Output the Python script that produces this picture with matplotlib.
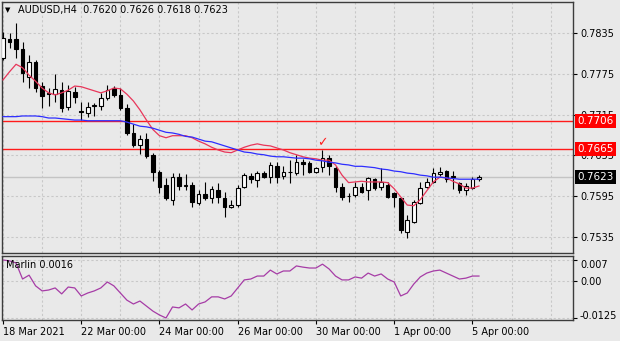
import numpy as np
import matplotlib
matplotlib.use('Agg')
import matplotlib.pyplot as plt
import matplotlib.transforms as mtransforms

# AUDUSD H4 bars, 18 Mar 2021 00:00 .. 5 Apr 2021 04:00
opens = [0.7798, 0.7826, 0.7826, 0.7811, 0.7770, 0.7792, 0.7757, 0.7747, 0.7745, 0.7751,
         0.7726, 0.7748, 0.7720, 0.7717, 0.7728, 0.7728, 0.7739, 0.7754, 0.7744, 0.7725,
         0.7688, 0.7670, 0.7679, 0.7656, 0.7631, 0.7612, 0.7589, 0.7623, 0.7610, 0.7612,
         0.7585, 0.7598, 0.7592, 0.7604, 0.7592, 0.7579, 0.7582, 0.7609, 0.7625, 0.7619,
         0.7629, 0.7623, 0.7639, 0.7625, 0.7631, 0.7629, 0.7645, 0.7644, 0.7631, 0.7638,
         0.7651, 0.7637, 0.7609, 0.7595, 0.7597, 0.7609, 0.7604, 0.7620, 0.7609, 0.7612,
         0.7600, 0.7592, 0.7542, 0.7557, 0.7585, 0.7609, 0.7616, 0.7628, 0.7632, 0.7625,
         0.7615, 0.7604, 0.7607, 0.7620]
highs = [0.7836, 0.7835, 0.7850, 0.7822, 0.7803, 0.7795, 0.7763, 0.7754, 0.7775, 0.7763,
         0.7759, 0.7756, 0.7734, 0.7734, 0.7732, 0.7747, 0.7759, 0.7757, 0.7754, 0.7731,
         0.7701, 0.7685, 0.7688, 0.7659, 0.7634, 0.7622, 0.7629, 0.7629, 0.7628, 0.7616,
         0.7604, 0.7616, 0.7610, 0.7615, 0.7601, 0.7589, 0.7611, 0.7629, 0.7629, 0.7632,
         0.7632, 0.7645, 0.7645, 0.7639, 0.7648, 0.7656, 0.7650, 0.7647, 0.7638, 0.7663,
         0.7656, 0.7639, 0.7615, 0.7600, 0.7616, 0.7615, 0.7623, 0.7622, 0.7637, 0.7616,
         0.7601, 0.7594, 0.7567, 0.7590, 0.7616, 0.7622, 0.7637, 0.7638, 0.7634, 0.7632,
         0.7616, 0.7615, 0.7623, 0.7626]
lows = [0.7795, 0.7813, 0.7798, 0.7763, 0.7754, 0.7748, 0.7725, 0.7728, 0.7734, 0.7719,
        0.7722, 0.7732, 0.7707, 0.7711, 0.7713, 0.7722, 0.7737, 0.7741, 0.7722, 0.7685,
        0.7667, 0.7657, 0.7651, 0.7617, 0.7600, 0.7589, 0.7582, 0.7604, 0.7604, 0.7579,
        0.7582, 0.7589, 0.7585, 0.7585, 0.7564, 0.7578, 0.7579, 0.7607, 0.7614, 0.7609,
        0.7622, 0.7614, 0.7614, 0.7620, 0.7614, 0.7626, 0.7626, 0.7629, 0.7629, 0.7631,
        0.7626, 0.7601, 0.7589, 0.7587, 0.7594, 0.7600, 0.7589, 0.7604, 0.7604, 0.7592,
        0.7579, 0.7541, 0.7534, 0.7556, 0.7584, 0.7607, 0.7614, 0.7625, 0.7616, 0.7606,
        0.7600, 0.7597, 0.7606, 0.7618]
closes = [0.7828, 0.7822, 0.7811, 0.7776, 0.7792, 0.7754, 0.7742, 0.7745, 0.7753, 0.7725,
          0.7750, 0.7741, 0.7719, 0.7726, 0.7729, 0.7739, 0.7751, 0.7744, 0.7725, 0.7688,
          0.7670, 0.7679, 0.7654, 0.7631, 0.7609, 0.7592, 0.7623, 0.7610, 0.7612, 0.7587,
          0.7598, 0.7592, 0.7606, 0.7594, 0.7579, 0.7582, 0.7607, 0.7626, 0.7620, 0.7629,
          0.7623, 0.7641, 0.7623, 0.7631, 0.7630, 0.7645, 0.7642, 0.7631, 0.7637, 0.7651,
          0.7639, 0.7609, 0.7594, 0.7596, 0.7609, 0.7601, 0.7622, 0.7607, 0.7616, 0.7594,
          0.7594, 0.7545, 0.7560, 0.7587, 0.7607, 0.7616, 0.7629, 0.7631, 0.7620, 0.7623,
          0.7604, 0.7610, 0.7620, 0.7623]

ma_fast = [0.7766, 0.7778, 0.7789, 0.7784, 0.7773, 0.7764, 0.7754, 0.7747, 0.7744, 0.7747,
           0.7751, 0.7757, 0.7756, 0.7753, 0.7750, 0.7747, 0.7750, 0.7754, 0.7753, 0.7745,
           0.7735, 0.7722, 0.7707, 0.7693, 0.7684, 0.7681, 0.7684, 0.7684, 0.7684, 0.7681,
           0.7676, 0.7672, 0.7667, 0.7663, 0.7660, 0.7659, 0.7663, 0.7667, 0.7670, 0.7672,
           0.7670, 0.7669, 0.7666, 0.7663, 0.7659, 0.7656, 0.7653, 0.7651, 0.7650, 0.7648,
           0.7648, 0.7641, 0.7626, 0.7615, 0.7616, 0.7617, 0.7616, 0.7616, 0.7616, 0.7615,
           0.7606, 0.7594, 0.7582, 0.7581, 0.7590, 0.7603, 0.7616, 0.7623, 0.7622, 0.7617,
           0.7613, 0.7607, 0.7607, 0.7610]
ma_slow = [0.7712, 0.7712, 0.7712, 0.7713, 0.7713, 0.7713, 0.7712, 0.7710, 0.7710, 0.7709,
           0.7708, 0.7707, 0.7707, 0.7706, 0.7706, 0.7706, 0.7706, 0.7706, 0.7706, 0.7704,
           0.7701, 0.7698, 0.7697, 0.7695, 0.7692, 0.7689, 0.7688, 0.7686, 0.7683, 0.7682,
           0.7679, 0.7676, 0.7675, 0.7672, 0.7669, 0.7666, 0.7663, 0.7660, 0.7659, 0.7657,
           0.7656, 0.7654, 0.7653, 0.7653, 0.7652, 0.7651, 0.7651, 0.7650, 0.7648, 0.7647,
           0.7645, 0.7644, 0.7642, 0.7641, 0.7639, 0.7639, 0.7638, 0.7637, 0.7635, 0.7634,
           0.7632, 0.7631, 0.7629, 0.7628, 0.7626, 0.7625, 0.7623, 0.7623, 0.7622, 0.7621,
           0.7620, 0.7620, 0.7620, 0.7620]

marlin = [0.0070, 0.0067, 0.0060, 0.0006, 0.0019, -0.0017, -0.0034, -0.0031, -0.0024, -0.0044,
          -0.0021, -0.0024, -0.0051, -0.0041, -0.0034, -0.0024, -0.0004, -0.0017, -0.0041, -0.0065,
          -0.0078, -0.0068, -0.0085, -0.0102, -0.0115, -0.0125, -0.0088, -0.0091, -0.0078, -0.0098,
          -0.0078, -0.0071, -0.0054, -0.0054, -0.0061, -0.0051, -0.0024, 0.0003, 0.0006, 0.0016,
          0.0016, 0.0036, 0.0023, 0.0033, 0.0033, 0.0050, 0.0046, 0.0043, 0.0043, 0.0056,
          0.0040, 0.0016, 0.0003, 0.0003, 0.0013, 0.0009, 0.0026, 0.0016, 0.0023, 0.0006,
          -0.0004, -0.0051, -0.0041, -0.0011, 0.0013, 0.0026, 0.0033, 0.0036, 0.0026, 0.0016,
          0.0006, 0.0009, 0.0016, 0.0016]

levels = [0.7706, 0.7665]
price_ticks = [0.7535, 0.7595, 0.7655, 0.7715, 0.7775, 0.7835]
date_labels = ['18 Mar 2021', '22 Mar 00:00', '24 Mar 00:00', '26 Mar 00:00',
               '30 Mar 00:00', '1 Apr 00:00', '5 Apr 00:00']
date_pos = [0, 12, 24, 36, 48, 60, 72]
marlin_ticks = [0.007, 0.0, -0.0125]
marlin_tick_labels = ['0.007', '0.00', '-0.0125']

bg = '#E9E9E9'
W, H = 620, 341

def px_rect(x0, y0, x1, y1):
    return [x0 / W, 1 - y1 / H, (x1 - x0) / W, (y1 - y0) / H]

fig = plt.figure(figsize=(6.2, 3.41), dpi=100, facecolor=bg)
ax = fig.add_axes(px_rect(2, 2, 573, 253), facecolor=bg)
sub = fig.add_axes(px_rect(2, 256, 573, 320), facecolor=bg)

n = len(closes)
idx = np.arange(n)
o = np.array(opens)
c = np.array(closes)
up = c >= o

# candles
ax.vlines(idx, lows, highs, color='black', lw=0.8, zorder=3)
body = np.maximum(np.abs(c - o), 0.00002)
ax.bar(idx[up], body[up], bottom=o[up], width=0.55, facecolor='white',
       edgecolor='black', lw=0.8, zorder=4)
ax.bar(idx[~up], body[~up], bottom=c[~up], width=0.55, facecolor='black',
       edgecolor='black', lw=0.8, zorder=4)

ax.plot(idx, ma_fast, color='#E8365A', lw=0.9, zorder=5)
ax.plot(idx, ma_slow, color='#2E2EFF', lw=0.9, zorder=5)

for lv in levels:
    ax.axhline(lv, color='#FF1A1A', lw=1.0, zorder=2)
ax.axhline(closes[-1], color='#C4C4C4', lw=1.0, zorder=1)

ax.text(49, highs[49] + 0.0011, '\u2713', color='#FF2020', fontsize=9,
        ha='center', va='center', zorder=6)

xlim = ((2 - 3) / 6.52, (573 - 3) / 6.52)
grid_minor = [k for k in range(0, 88, 6) if k not in date_pos]
for a in (ax, sub):
    a.set_xlim(*xlim)
    a.set_xticks(date_pos)
    a.set_xticks(grid_minor, minor=True)
    a.grid(True, which='both', axis='x', color='#C8C8C8', ls=(0, (2, 2)), lw=0.8)
    a.grid(True, which='major', axis='y', color='#C8C8C8', ls=(0, (2, 2)), lw=0.8)
    a.set_axisbelow(True)
    a.yaxis.tick_right()
    a.tick_params(axis='y', length=3, width=0.8, labelsize=7, pad=2, colors='black')
    a.tick_params(axis='x', which='minor', length=0)
    for s in a.spines.values():
        s.set_color('#3C3C3C')
        s.set_linewidth(1.0)

ax.set_ylim(0.75115, 0.78806)
ax.set_yticks(price_ticks)
ax.set_yticklabels([f'{p:.4f}' for p in price_ticks])
ax.tick_params(axis='x', which='major', length=0, labelbottom=False)

# price tags on the right scale
tag_tr = mtransforms.blended_transform_factory(ax.transAxes, ax.transData)
for lv in levels:
    ax.text(1.008, lv, f'{lv:.4f}', transform=tag_tr, color='white', fontsize=7.5,
            va='center', ha='left', clip_on=False, zorder=10,
            bbox=dict(boxstyle='square,pad=0.2', facecolor='#FF0000', edgecolor='none'))
ax.text(1.008, closes[-1], f'{closes[-1]:.4f}', transform=tag_tr, color='white',
        fontsize=7.5, va='center', ha='left', clip_on=False, zorder=10,
        bbox=dict(boxstyle='square,pad=0.2', facecolor='black', edgecolor='none'))

sub.plot(idx, marlin, color='#A63CA6', lw=0.9)
sub.set_ylim(-0.01318, 0.00834)
sub.set_yticks(marlin_ticks)
sub.set_yticklabels(marlin_tick_labels)
ylabels = sub.get_yticklabels()
ylabels[0].set_transform(ylabels[0].get_transform() +
                         mtransforms.ScaledTranslation(0, -4 / 100, fig.dpi_scale_trans))
ylabels[2].set_transform(ylabels[2].get_transform() +
                         mtransforms.ScaledTranslation(0, 3 / 100, fig.dpi_scale_trans))
sub.set_xticklabels(date_labels, ha='left')
sub.tick_params(axis='x', which='major', length=3, width=0.8, labelsize=7, pad=2)
sub.text(0.007, 0.86, 'Marlin 0.0016', transform=sub.transAxes, fontsize=7,
         ha='left', va='center')

fig.text(5 / W, 1 - 10 / H, '\u25BC', fontsize=5, ha='left', va='center')
fig.text(18 / W, 1 - 10 / H, 'AUDUSD,H4  0.7620 0.7626 0.7618 0.7623', fontsize=7,
         ha='left', va='center')

fig.savefig('out.png', dpi=100, facecolor=bg)
